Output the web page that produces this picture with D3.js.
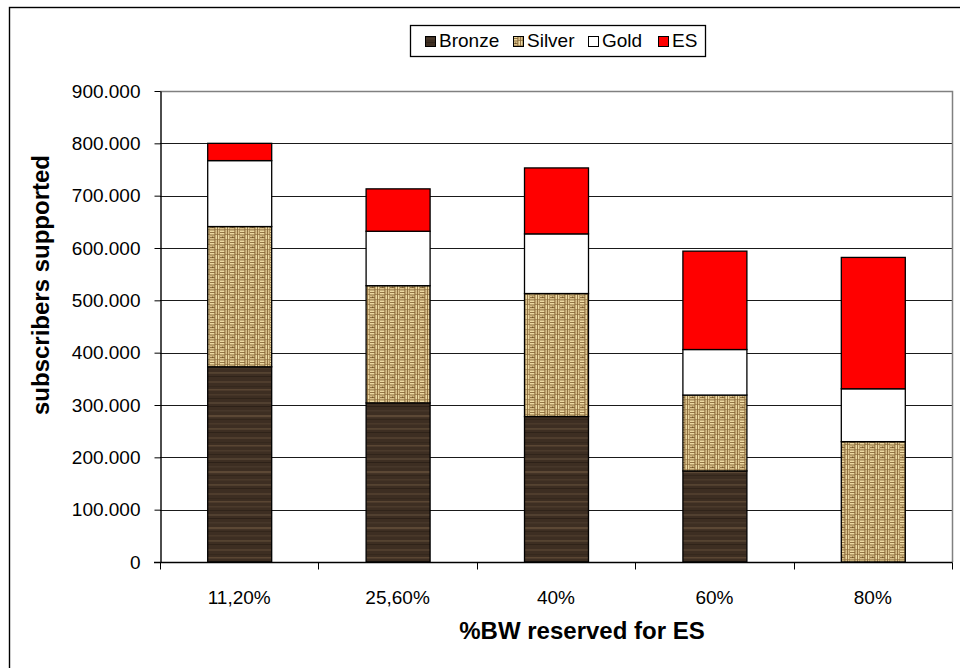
<!DOCTYPE html>
<html>
<head>
<meta charset="utf-8">
<script src="https://cdn.jsdelivr.net/npm/d3@7"></script>
<style>
  html, body { margin: 0; padding: 0; background: #fff; }
  svg { display: block; font-family: "Liberation Sans", Arial, sans-serif; }
</style>
</head>
<body>
<svg id="chart" width="960" height="668"></svg>
<script>
// Bandwidth share reserved for ES (x categories)
const categories = ["11,20%", "25,60%", "40%", "60%", "80%"];
// Subscribers supported per service class
const bronze = [373000, 304000, 278000, 174000, 0];
const silver = [268000, 224000, 235000, 145000, 230000];
const gold   = [126000, 104000, 114000, 87000, 101000];
const es     = [33000, 81000, 126000, 188000, 251000];
const seriesNames = ["Bronze", "Silver", "Gold", "ES"];
const yTicks = [0, 100000, 200000, 300000, 400000, 500000, 600000, 700000, 800000, 900000];

const svg = d3.select("#chart");
const margin = { left: 160, right: 952, top: 91, bottom: 562 };

// --- fill textures ---
const defs = svg.append("defs");

// dark wood grain
const wood = defs.append("pattern").attr("id", "wood")
  .attr("patternUnits", "userSpaceOnUse").attr("width", 66).attr("height", 56);
wood.append("rect").attr("width", 66).attr("height", 56).attr("fill", "#3d2e22");
const grain = [
  [0, 2, 66, 1.5, "#4b3a2b"], [0, 6, 66, 1, "#30241a"], [0, 10, 66, 2, "#514030"],
  [0, 14, 66, 1, "#2d2118"], [0, 18, 66, 1.5, "#47372a"], [0, 23, 66, 2.2, "#5c4835"],
  [0, 27, 66, 1, "#33261b"], [0, 31, 66, 1.5, "#4a392a"], [0, 36, 66, 1.8, "#554331"],
  [0, 40, 66, 1, "#2f2319"], [0, 45, 66, 2, "#4f3d2d"], [0, 50, 66, 1.2, "#35281d"],
  [0, 53, 66, 1.5, "#5a4633"]
];
grain.forEach(g => wood.append("rect")
  .attr("x", g[0]).attr("y", g[1]).attr("width", g[2]).attr("height", g[3]).attr("fill", g[4]));

// woven burlap (basket weave)
const weave = defs.append("pattern").attr("id", "weave")
  .attr("patternUnits", "userSpaceOnUse").attr("width", 10).attr("height", 10);
weave.append("rect").attr("width", 10).attr("height", 10).attr("fill", "#8a6a3a");
const light = "#ecd9a2", light2 = "#d9c08a";
[[0, 0.4, 4.4, 1.6], [0, 2.9, 4.4, 1.6], [5.4, 5, 1.6, 4.4], [7.9, 5, 1.6, 4.4]].forEach(r =>
  weave.append("rect").attr("x", r[0]).attr("y", r[1]).attr("width", r[2]).attr("height", r[3]).attr("fill", light));
[[5.4, 0, 1.6, 4.4], [7.9, 0, 1.6, 4.4], [0, 5.4, 4.4, 1.6], [0, 7.9, 4.4, 1.6]].forEach(r =>
  weave.append("rect").attr("x", r[0]).attr("y", r[1]).attr("width", r[2]).attr("height", r[3]).attr("fill", light2));
weave.append("rect").attr("x", 2).attr("y", 6.6).attr("width", 1.2).attr("height", 1.2).attr("fill", "#6a4c22");

const fills = { Bronze: "url(#wood)", Silver: "url(#weave)", Gold: "#ffffff", ES: "#ff0000" };

// outer chart frame
svg.append("rect").attr("x", 9.5).attr("y", 7.5).attr("width", 980).attr("height", 700)
  .attr("fill", "#fff").attr("stroke", "#000").attr("stroke-width", 1.4);

// --- scales ---
const x = d3.scaleBand().domain(categories)
  .range([margin.left, margin.right]).paddingInner(0.596).paddingOuter(0.298);
const y = d3.scaleLinear().domain([0, 900000]).range([margin.bottom, margin.top]);

const locale = d3.formatLocale({ decimal: ",", thousands: ".", grouping: [3], currency: ["", ""] });
const fmt = locale.format(",d");

// gridlines
svg.append("g").selectAll("line").data(yTicks.filter(t => t > 0 && t < 900000)).join("line")
  .attr("x1", margin.left).attr("x2", margin.right)
  .attr("y1", d => Math.round(y(d)) + 0.5).attr("y2", d => Math.round(y(d)) + 0.5)
  .attr("stroke", "#1a1a1a").attr("stroke-width", 1.2);

// plot frame (top/right)
svg.append("path")
  .attr("d", `M${margin.left},${margin.top + 0.5}H${margin.right + 0.5}V${margin.bottom}`)
  .attr("fill", "none").attr("stroke", "#808080").attr("stroke-width", 1.5);

// stacked bars
const rows = categories.map((c, i) => ({ cat: c, Bronze: bronze[i], Silver: silver[i], Gold: gold[i], ES: es[i] }));
const stacked = d3.stack().keys(seriesNames)(rows);
svg.append("g").selectAll("g").data(stacked).join("g")
  .attr("fill", d => fills[d.key])
  .selectAll("rect").data(d => d.filter(s => s[1] - s[0] > 0)).join("rect")
  .attr("x", d => x(d.data.cat) + 0.5)
  .attr("width", x.bandwidth())
  .attr("y", d => y(d[1]))
  .attr("height", d => y(d[0]) - y(d[1]))
  .attr("stroke", "#000").attr("stroke-width", 1.3);

// y axis
const yAxis = svg.append("g").attr("transform", `translate(${margin.left + 0.5},0)`)
  .call(d3.axisLeft(y).tickValues(yTicks).tickFormat(fmt).tickSize(6).tickSizeOuter(0));
yAxis.select(".domain").attr("stroke", "#000").attr("stroke-width", 1.4);
yAxis.selectAll(".tick line").attr("stroke", "#000");
yAxis.selectAll(".tick text").attr("font-size", 19).attr("fill", "#000").attr("x", -20)
  .attr("font-family", "'Liberation Sans', Arial, sans-serif");

// x axis with ticks on band boundaries
const xAxisG = svg.append("g").attr("transform", `translate(0,${margin.bottom + 0.5})`);
xAxisG.append("line").attr("x1", margin.left - 6).attr("x2", margin.right + 0.5)
  .attr("stroke", "#000").attr("stroke-width", 1.4);
const bounds = categories.map(c => x(c) - x.step() * x.paddingInner() / 2)
  .concat([margin.right]);
xAxisG.selectAll("line.tk").data(bounds).join("line").attr("class", "tk")
  .attr("x1", d => Math.round(d) + 0.5).attr("x2", d => Math.round(d) + 0.5)
  .attr("y1", 0).attr("y2", 7).attr("stroke", "#000");
xAxisG.selectAll("text").data(categories).join("text")
  .attr("x", d => x(d) + x.bandwidth() / 2).attr("y", 41)
  .attr("text-anchor", "middle").attr("font-size", 19).text(d => d);

// axis titles
svg.append("text").attr("x", 582).attr("y", 639)
  .attr("text-anchor", "middle").attr("font-size", 24).attr("font-weight", "bold")
  .text("%BW reserved for ES");
svg.append("text").attr("transform", "translate(49,285) rotate(-90)")
  .attr("text-anchor", "middle").attr("font-size", 24).attr("font-weight", "bold")
  .text("subscribers supported");

// legend
const lg = svg.append("g");
lg.append("rect").attr("x", 410.5).attr("y", 25.5).attr("width", 295).attr("height", 31)
  .attr("fill", "#fff").attr("stroke", "#000").attr("stroke-width", 1.3);
const legendX = [425, 513, 588, 658];
seriesNames.forEach((name, i) => {
  const g = lg.append("g").attr("transform", `translate(${legendX[i]},36)`);
  g.append("rect").attr("x", 0.5).attr("y", 0.5).attr("width", 10).attr("height", 10)
    .attr("fill", fills[name]).attr("stroke", "#000").attr("stroke-width", 1);
  g.append("text").attr("x", 14).attr("y", 11).attr("font-size", 19).text(name);
});
</script>
</body>
</html>
